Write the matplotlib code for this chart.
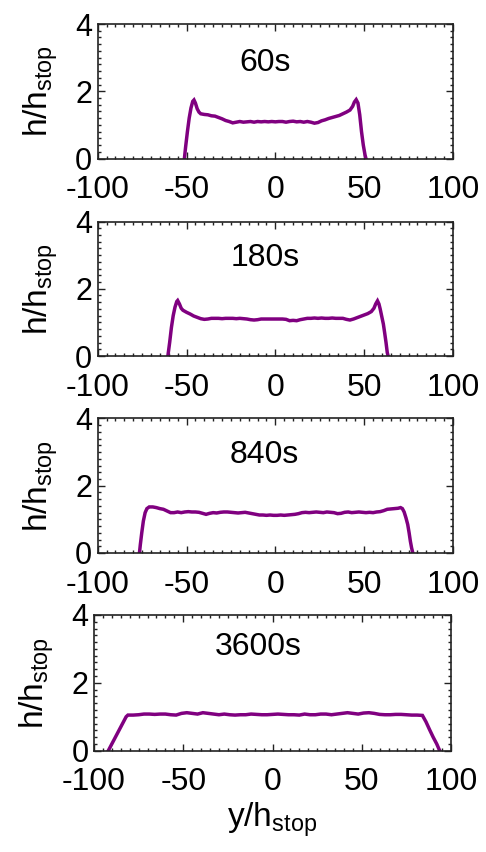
import matplotlib
matplotlib.use("Agg")
import matplotlib.pyplot as plt
from matplotlib.ticker import MultipleLocator

plt.rcParams['font.family'] = ['Liberation Sans', 'DejaVu Sans']
plt.rcParams['mathtext.fontset'] = 'custom'
plt.rcParams['mathtext.rm'] = 'Liberation Sans'

titles = ["60s", "180s", "840s", "3600s"]

y_60 = [-51.2, -50.5, -49.5, -48.5, -47.5, -46.5, -45.8, -45, -44, -43, -42, -40, -38, -36, -34, -32, -30,
        -28, -26, -24, -22, -20, -18, -16, -14, -12, -10, -8, -6, -4, -2, 0, 2, 4, 6, 8, 10, 12, 14, 16, 18,
        20, 22, 24, 26, 28, 30, 32, 34, 36, 38, 40, 42, 43.5, 44.5, 45.5, 46.5, 47.5, 48.5, 49.5, 50.5, 51]
h_60 = [0, 0.35, 0.8, 1.2, 1.5, 1.7, 1.74, 1.65, 1.48, 1.38, 1.33, 1.31, 1.30, 1.27, 1.26, 1.22, 1.18,
        1.13, 1.10, 1.06, 1.08, 1.10, 1.08, 1.09, 1.10, 1.08, 1.10, 1.09, 1.10, 1.09, 1.10, 1.09, 1.10, 1.10,
        1.08, 1.10, 1.11, 1.09, 1.10, 1.08, 1.10, 1.08, 1.05, 1.07, 1.12, 1.15, 1.19, 1.22, 1.25, 1.28, 1.33,
        1.38, 1.44, 1.55, 1.68, 1.75, 1.65, 1.3, 0.8, 0.4, 0.1, 0]

y_180 = [-60.5, -59.5, -58.5, -57.5, -56.5, -55.5, -55, -54, -53, -52, -50, -48, -46, -44, -42, -40, -38,
         -36, -34, -32, -30, -28, -26, -24, -22, -20, -18, -16, -14, -12, -10, -8, -6, -4, -2, 0, 2, 4, 6,
         8, 10, 12, 14, 16, 18, 20, 22, 24, 26, 28, 30, 32, 34, 36, 38, 40, 42, 44, 46, 48, 50, 52, 54,
         55.5, 56.5, 57.5, 58.3, 59, 60, 60.8, 61.5, 62.3, 63, 63.5]
h_180 = [0, 0.4, 0.85, 1.2, 1.45, 1.62, 1.65, 1.55, 1.42, 1.36, 1.30, 1.25, 1.19, 1.15, 1.11, 1.09, 1.10,
         1.12, 1.12, 1.12, 1.11, 1.12, 1.12, 1.12, 1.11, 1.12, 1.11, 1.10, 1.08, 1.07, 1.08, 1.10, 1.10,
         1.10, 1.10, 1.10, 1.10, 1.10, 1.09, 1.05, 1.06, 1.05, 1.08, 1.10, 1.12, 1.12, 1.13, 1.12, 1.13,
         1.12, 1.12, 1.13, 1.12, 1.12, 1.12, 1.09, 1.07, 1.10, 1.14, 1.18, 1.22, 1.26, 1.32,
         1.42, 1.55, 1.64, 1.55, 1.40, 1.15, 0.95, 0.7, 0.4, 0.1, 0]

y_840 = [-76.5, -76, -75.2, -74.3, -73.3, -72.3, -71, -69, -67, -65, -63, -61, -59, -57, -55, -53, -51,
         -49, -47, -45, -43, -41, -39, -37, -35, -33, -31, -29, -27, -25, -23, -21, -19, -17, -15, -13,
         -11, -9, -7, -5, -3, -1, 1, 3, 5, 7, 9, 11, 13, 15, 17, 19, 21, 23, 25, 27, 29, 31, 33, 35, 37,
         39, 41, 43, 45, 47, 49, 51, 53, 55, 57, 59, 61, 63, 65, 67, 69, 70.5, 71.5, 72.5, 73.5, 74.5,
         75.3, 76, 76.7, 77.3]
h_840 = [0, 0.25, 0.6, 0.95, 1.2, 1.32, 1.37, 1.37, 1.35, 1.32, 1.30, 1.25, 1.20, 1.20, 1.22, 1.20, 1.22,
         1.23, 1.22, 1.22, 1.21, 1.18, 1.15, 1.18, 1.20, 1.19, 1.21, 1.22, 1.22, 1.21, 1.20, 1.19, 1.20,
         1.21, 1.19, 1.17, 1.15, 1.13, 1.13, 1.12, 1.13, 1.12, 1.12, 1.13, 1.12, 1.13, 1.14, 1.15, 1.17,
         1.20, 1.21, 1.20, 1.21, 1.22, 1.21, 1.20, 1.22, 1.21, 1.20, 1.17, 1.18, 1.21, 1.22, 1.20, 1.21,
         1.22, 1.21, 1.20, 1.21, 1.20, 1.22, 1.23, 1.26, 1.30, 1.31, 1.32, 1.33, 1.35, 1.32, 1.22, 1.05,
         0.85, 0.6, 0.35, 0.15, 0.02]

y_3600 = [-92, -90, -88, -86, -84, -82, -81, -78, -75, -72, -69, -66, -63, -60, -57, -54, -51, -48, -45,
          -42, -39, -36, -33, -30, -27, -24, -21, -18, -15, -12, -9, -6, -3, 0, 3, 6, 9, 12, 15, 18, 21,
          24, 27, 30, 33, 36, 39, 42, 45, 48, 51, 54, 57, 60, 63, 66, 69, 72, 75, 78, 81, 84, 86, 88, 90,
          92, 93.5]
h_3600 = [0, 0.2, 0.4, 0.6, 0.8, 1.0, 1.05, 1.05, 1.06, 1.08, 1.08, 1.07, 1.08, 1.08, 1.06, 1.05, 1.10,
          1.12, 1.10, 1.08, 1.12, 1.10, 1.08, 1.06, 1.08, 1.06, 1.05, 1.06, 1.06, 1.08, 1.07, 1.06, 1.06,
          1.07, 1.08, 1.07, 1.06, 1.06, 1.05, 1.08, 1.06, 1.06, 1.08, 1.08, 1.06, 1.08, 1.10, 1.12, 1.10,
          1.08, 1.11, 1.12, 1.10, 1.07, 1.06, 1.06, 1.07, 1.07, 1.06, 1.05, 1.05, 1.04, 0.85, 0.62, 0.4,
          0.2, 0.02]

series = [(y_60, h_60), (y_180, h_180), (y_840, h_840), (y_3600, h_3600)]

xticks = [-100, -50, 0, 50, 100]
yticks = [0, 2, 4]

fig = plt.figure(figsize=(4.86, 8.52), dpi=100)
W, H = 486.0, 852.0
# (left, right, top, bottom) in pixels
boxes = [(97.7, 453, 24, 158.5), (97.7, 453, 221.5, 356), (97.7, 453, 418.5, 553), (94, 451, 615, 750.7)]
title_pos = [(-6, 2.85), (-6, 2.9), (-6, 2.9), (-8, 3.05)]
color = '#800080'

for i, ((yv, hv), (l, r, t, b)) in enumerate(zip(series, boxes)):
    ax = fig.add_axes([l / W, 1 - b / H, (r - l) / W, (b - t) / H])
    ax.plot(yv, hv, color=color, lw=2.5, solid_joinstyle='miter')
    ax.set_xlim(-100, 100)
    ax.set_ylim(0, 4)
    ax.set_xticks(xticks)
    ax.set_yticks(yticks)
    ax.set_xticklabels([str(v) for v in xticks])
    ax.xaxis.set_minor_locator(MultipleLocator(5))
    ax.yaxis.set_minor_locator(MultipleLocator(0.2))
    ax.tick_params(which='both', direction='in', top=True, right=True, width=1.0, color='#222222')
    ax.tick_params(which='major', length=5)
    ax.tick_params(axis='x', which='major', pad=12, labelsize=23)
    ax.tick_params(axis='y', which='major', pad=4, labelsize=22)
    ax.tick_params(which='minor', length=2.5)
    for s in ax.spines.values():
        s.set_linewidth(1.2)
        s.set_color('#222222')
    ax.set_ylabel('h/h$_\\mathregular{stop}$', fontsize=24, labelpad=11)
    tx, ty = title_pos[i]
    ax.text(tx, ty, titles[i], fontsize=23, ha='center', va='center')
    if i == 3:
        ax.set_xlabel('y/h$_\\mathregular{stop}$', fontsize=24, labelpad=2)

fig.savefig('out.png', dpi=100)
